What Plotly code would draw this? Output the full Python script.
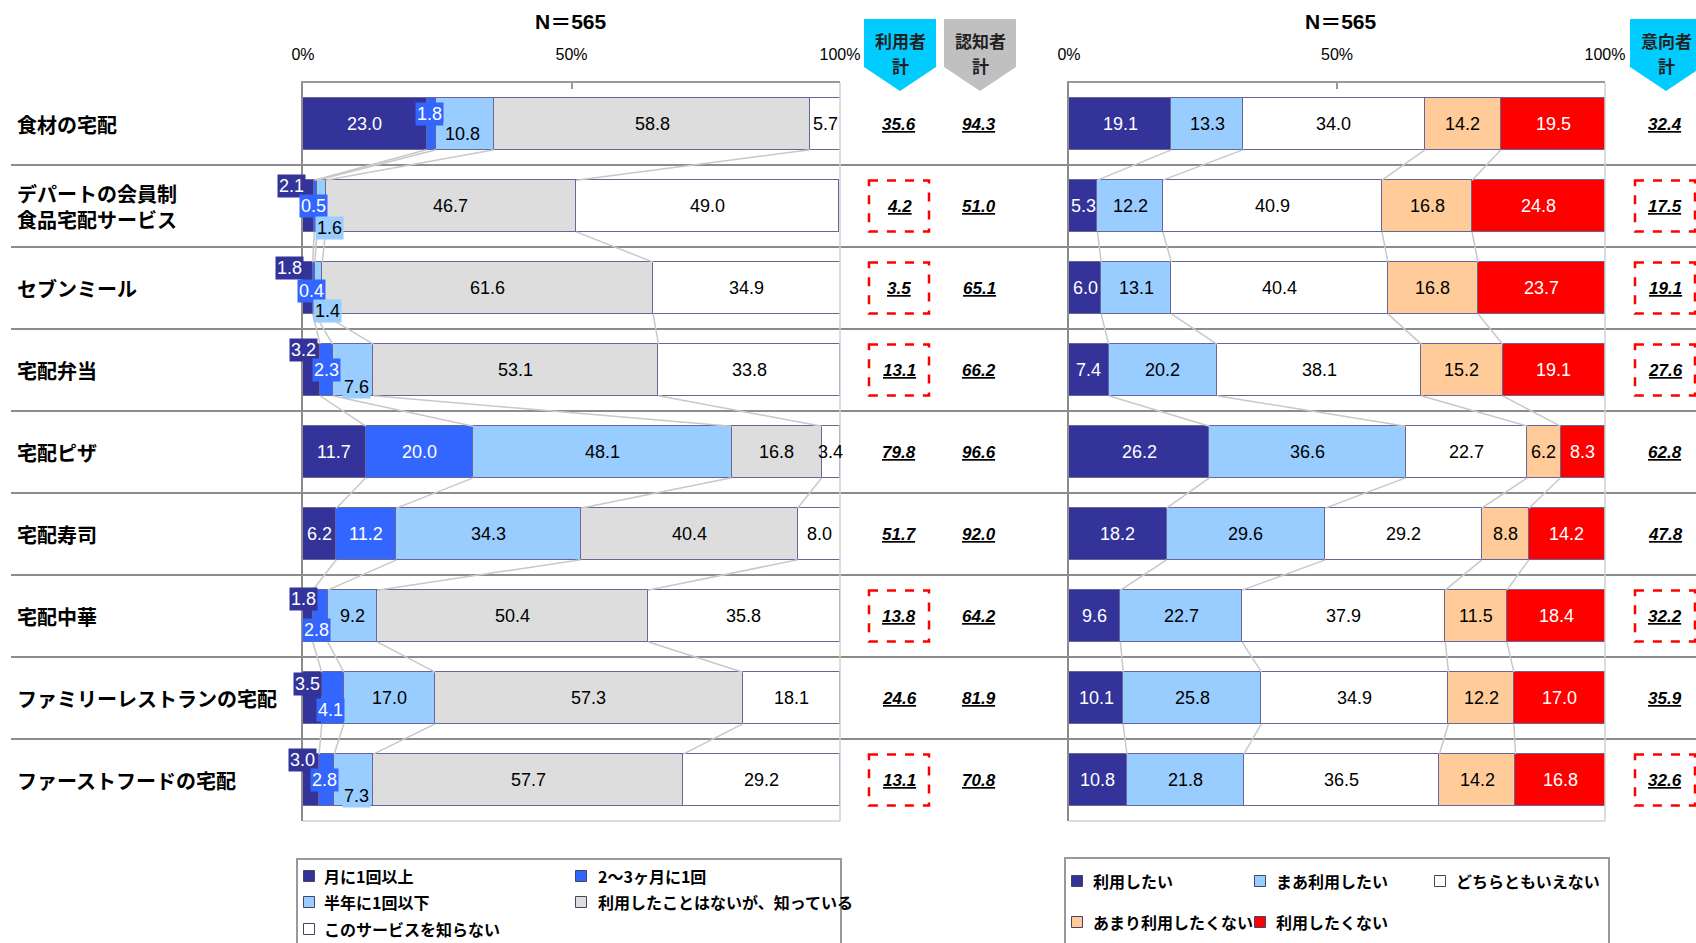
import plotly.graph_objects as go

W, H = 1696, 943

# ---------------- data ----------------
categories = ["食材の宅配", "デパートの会員制<br>食品宅配サービス", "セブンミール", "宅配弁当",
              "宅配ピザ", "宅配寿司", "宅配中華", "ファミリーレストランの宅配", "ファーストフードの宅配"]

usage_names = ["月に1回以上", "2～3ヶ月に1回", "半年に1回以下", "利用したことはないが、知っている", "このサービスを知らない"]
usage_monthly = [23.0, 2.1, 1.8, 3.2, 11.7, 6.2, 1.8, 3.5, 3.0]
usage_quarterly = [1.8, 0.5, 0.4, 2.3, 20.0, 11.2, 2.8, 4.1, 2.8]
usage_halfyear = [10.8, 1.6, 1.4, 7.6, 48.1, 34.3, 9.2, 17.0, 7.3]
usage_aware = [58.8, 46.7, 61.6, 53.1, 16.8, 40.4, 50.4, 57.3, 57.7]
usage_unaware = [5.7, 49.0, 34.9, 33.8, 3.4, 8.0, 35.8, 18.1, 29.2]
user_total = [35.6, 4.2, 3.5, 13.1, 79.8, 51.7, 13.8, 24.6, 13.1]
aware_total = [94.3, 51.0, 65.1, 66.2, 96.6, 92.0, 64.2, 81.9, 70.8]

intent_names = ["利用したい", "まあ利用したい", "どちらともいえない", "あまり利用したくない", "利用したくない"]
intent_yes = [19.1, 5.3, 6.0, 7.4, 26.2, 18.2, 9.6, 10.1, 10.8]
intent_somewhat = [13.3, 12.2, 13.1, 20.2, 36.6, 29.6, 22.7, 25.8, 21.8]
intent_neutral = [34.0, 40.9, 40.4, 38.1, 22.7, 29.2, 37.9, 34.9, 36.5]
intent_notmuch = [14.2, 16.8, 16.8, 15.2, 6.2, 8.8, 11.5, 12.2, 14.2]
intent_no = [19.5, 24.8, 23.7, 19.1, 8.3, 14.2, 18.4, 17.0, 16.8]
intent_total = [32.4, 17.5, 19.1, 27.6, 62.8, 47.8, 32.2, 35.9, 32.6]

highlight_rows = [1, 2, 3, 6, 8]
sample_title = "N＝565"
tick_vals = [0, 50, 100]
tick_text = ["0%", "50%", "100%"]

# ---------------- styles ----------------
usage_colors = ["#333399", "#3366FF", "#99CCFF", "#DDDDDD", "#FFFFFF"]
usage_text = ["white", "white", "black", "black", "black"]
intent_colors = ["#333399", "#99CCFF", "#FFFFFF", "#FFCC99", "#FF0000"]
intent_text = ["white", "black", "black", "black", "white"]
OUTLINE = "rgb(102,102,153)"
NUMFONT = "Liberation Sans, Arial, sans-serif"
JPFONT = "Noto Sans CJK JP, sans-serif"

# displaced small labels (row, segment) -> (dx px, dy px down)
label_offsets = {
    (0, 1): (-2, -10), (0, 2): (-3, 10),
    (1, 0): (-17, -20), (1, 1): (-2, 0), (1, 2): (8, 22),
    (2, 0): (-18, -20), (2, 1): (-2, 3), (2, 2): (9, 23),
    (3, 0): (-8, -20), (3, 1): (0, 0), (3, 2): (4, 17),
    (6, 0): (-4, -17), (6, 1): (-4, 14),
    (7, 0): (-5, -14), (7, 1): (-2, 12),
    (8, 0): (-9, -20), (8, 1): (-2, 0), (8, 2): (3, 16),
}

def px(x):
    return x / W

def py(y):
    return 1 - y / H

BAR_W = 0.63
rows = list(range(len(categories)))
ydom = [py(821), py(83)]

usage_series = [usage_monthly, usage_quarterly, usage_halfyear, usage_aware, usage_unaware]
intent_series = [intent_yes, intent_somewhat, intent_neutral, intent_notmuch, intent_no]

fig = go.Figure()
annotations = []
shapes = []

def add_chart(series, names, colors, tcolors, xa, ya, offsets):
    for s, (vals, name, col) in enumerate(zip(series, names, colors)):
        fig.add_trace(go.Bar(
            x=vals, y=rows, orientation="h", name=name, width=BAR_W,
            marker=dict(color=col, line=dict(color=OUTLINE, width=1.5)),
            xaxis=xa, yaxis=ya, showlegend=False, hoverinfo="skip"))
    cums = []
    for r in rows:
        c = [0.0]
        for vals in series:
            c.append(c[-1] + vals[r])
        cums.append(c)
    lx, ly = [], []
    h = BAR_W / 2
    for r in rows[:-1]:
        for k in range(1, len(series)):
            lx += [cums[r][k], cums[r + 1][k], None]
            ly += [r + h, r + 1 - h, None]
    fig.add_trace(go.Scatter(x=lx, y=ly, mode="lines", line=dict(color="#c8c8c8", width=1.5),
                             xaxis=xa, yaxis=ya, showlegend=False, hoverinfo="skip"))
    for r in rows:
        for s, vals in enumerate(series):
            v = vals[r]
            dx, dy = offsets.get((r, s), (0, 0))
            disp = (r, s) in offsets
            annotations.append(dict(
                x=cums[r][s] + v / 2, y=r, xref=xa, yref=ya, text=f"{v:.1f}",
                showarrow=False, xshift=dx, yshift=-dy, xanchor="center", yanchor="middle",
                font=dict(family=NUMFONT, size=18, color=tcolors[s]),
                bgcolor=colors[s] if disp else None, borderpad=1))

add_chart(usage_series, usage_names, usage_colors, usage_text, "x", "y", label_offsets)
add_chart(intent_series, intent_names, intent_colors, intent_text, "x2", "y2", {})

axis_common = dict(range=[0, 100], side="top", tickvals=tick_vals, ticktext=tick_text,
                   ticks="inside", ticklen=6, tickcolor="#999999", tickwidth=1.5,
                   showline=True, linecolor="#999999", linewidth=1.5, showgrid=False,
                   zeroline=False, ticklabelstandoff=15, automargin=False,
                   tickfont=dict(family=NUMFONT, size=16, color="black"), fixedrange=True)
yaxis_common = dict(range=[8.5, -0.5], domain=ydom, showticklabels=False, showline=True,
                    linecolor="#8c8c8c", linewidth=2, showgrid=False, zeroline=False,
                    ticks="", fixedrange=True, automargin=False)

for xa, ya in [("x", "y"), ("x2", "y2")]:
    shapes.append(dict(type="line", xref=f"{xa} domain", yref=f"{ya} domain", x0=1, x1=1, y0=0, y1=1,
                       line=dict(color="#d0d0d0", width=1.5)))
    shapes.append(dict(type="line", xref=f"{xa} domain", yref=f"{ya} domain", x0=0, x1=1, y0=0, y1=0,
                       line=dict(color="#d0d0d0", width=1.5)))

for r in rows[:-1]:
    shapes.append(dict(type="line", xref="paper", yref="y", x0=px(11), x1=px(1700), y0=r + 0.5, y1=r + 0.5,
                       line=dict(color="#8c8c8c", width=2), layer="below"))

for r, cat in zip(rows, categories):
    annotations.append(dict(x=px(15), y=r, xref="paper", yref="y", text=f"<b>{cat}</b>",
                            showarrow=False, xanchor="left", yanchor="middle", align="left",
                            font=dict(family=JPFONT, size=20, color="black")))

def add_totals(vals, xc, boxed, bw):
    for r, v in zip(rows, vals):
        annotations.append(dict(x=px(xc), y=r, xref="paper", yref="y",
                                text=f"<b><i><u>{v:.1f}</u></i></b>", showarrow=False,
                                xanchor="center", yanchor="middle",
                                font=dict(family=NUMFONT, size=17, color="black")))
    for r in boxed:
        shapes.append(dict(type="rect", xref="paper", yref="y", x0=px(xc - bw / 2), x1=px(xc + bw / 2),
                           y0=r - 0.31, y1=r + 0.31, line=dict(color="#FF0000", width=2.5, dash="dash")))

add_totals(user_total, 899, highlight_rows, 60)
add_totals(aware_total, 979, [], 60)
add_totals(intent_total, 1665, highlight_rows, 60)

def badge(x0, x1, col, top_text):
    xc = (x0 + x1) / 2
    path = (f"M {px(x0)} {py(19)} L {px(x1)} {py(19)} L {px(x1)} {py(67)} "
            f"L {px(xc)} {py(91)} L {px(x0)} {py(67)} Z")
    shapes.append(dict(type="path", xref="paper", yref="paper", path=path,
                       fillcolor=col, line=dict(width=0)))
    for txt, yy in [(top_text, 40), ("計", 65)]:
        annotations.append(dict(x=px(xc), y=py(yy), xref="paper", yref="paper", text=f"<b>{txt}</b>",
                                showarrow=False, xanchor="center", yanchor="middle",
                                font=dict(family=JPFONT, size=17, color="#222222")))

badge(864, 936, "#00CCFF", "利用者")
badge(944, 1016, "#C0C0C0", "認知者")
badge(1630, 1702, "#00CCFF", "意向者")

for xc in [571, 1341]:
    annotations.append(dict(x=px(xc), y=py(22), xref="paper", yref="paper", text=f"<b>{sample_title}</b>",
                            showarrow=False, xanchor="center", yanchor="middle",
                            font=dict(family=NUMFONT + ", " + JPFONT, size=21, color="black")))

def legend_box(x0, x1, y0, entries):
    shapes.append(dict(type="rect", xref="paper", yref="paper", x0=px(x0), x1=px(x1), y0=py(y0), y1=py(960),
                       line=dict(color="#999999", width=2), fillcolor="white"))
    for name, col, sx, tx, yy in entries:
        shapes.append(dict(type="rect", xref="paper", yref="paper", x0=px(sx - 5.5), x1=px(sx + 5.5),
                           y0=py(yy + 5.5), y1=py(yy - 5.5), fillcolor=col,
                           line=dict(color="#444466", width=1)))
        annotations.append(dict(x=px(tx), y=py(yy), xref="paper", yref="paper", text=f"<b>{name}</b>",
                                showarrow=False, xanchor="left", yanchor="middle",
                                font=dict(family=JPFONT, size=16, color="black")))

left_pos = [(309, 322, 876), (581, 596, 876), (309, 322, 902), (581, 596, 902), (309, 322, 929)]
legend_box(297, 841, 859, [(n, c, sx, tx, yy) for n, c, (sx, tx, yy) in zip(usage_names, usage_colors, left_pos)])
right_pos = [(1077, 1091, 881), (1260, 1274, 881), (1440, 1454, 881), (1077, 1091, 922), (1260, 1274, 922)]
legend_box(1065, 1609, 858, [(n, c, sx, tx, yy) for n, c, (sx, tx, yy) in zip(intent_names, intent_colors, right_pos)])

fig.update_layout(
    width=W, height=H, margin=dict(l=0, r=0, t=0, b=0, autoexpand=False), autosize=False,
    paper_bgcolor="white", plot_bgcolor="white", barmode="stack", bargap=0,
    xaxis=dict(domain=[px(303), px(840)], anchor="y", **axis_common),
    yaxis=dict(anchor="x", **yaxis_common),
    xaxis2=dict(domain=[px(1069), px(1605)], anchor="y2", **axis_common),
    yaxis2=dict(anchor="x2", **yaxis_common),
    annotations=annotations, shapes=shapes, showlegend=False,
)

fig.write_html("out.html", config={"displayModeBar": False, "responsive": False},
               post_script="document.body.style.margin='0';document.body.style.overflow='hidden';")
